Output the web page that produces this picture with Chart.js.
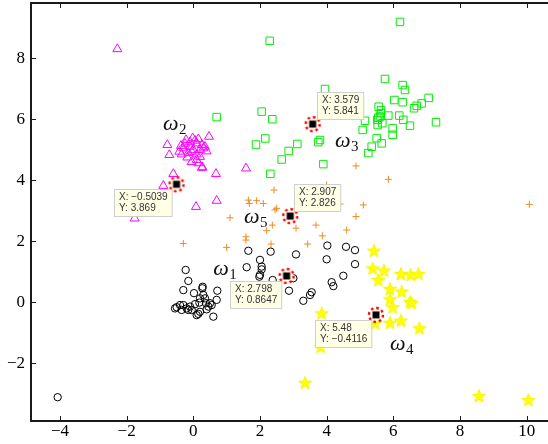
<!DOCTYPE html>
<html>
<head>
<meta charset="utf-8">
<script src="https://cdn.jsdelivr.net/npm/chart.js@4.4.1/dist/chart.umd.min.js"></script>
<style>
html, body { margin: 0; padding: 0; background: #fff; }
#wrap { width: 548px; height: 444px; }
</style>
</head>
<body>
<div id="wrap"><canvas id="myChart" width="548" height="444"></canvas></div>
<script>
// tick labels
const xTicks = [-4, -2, 0, 2, 4, 6, 8, 10];
const yTicks = [-2, 0, 2, 4, 6, 8];

// omega 1 - black circles
const w1x = [-4.07, -0.23, -0.15, -0.30, 0.02, 0.27, 0.72, 0.70, 0.60, 0.10, -0.50, -0.40, -0.30, -0.20, -0.10,
  -0.05, 0.18, 0.20, 0.35, 0.38, 0.40, 0.30, 0.20, 0.45, 0.50, 0.05, -0.35, -0.55, -0.15, 0.55, 0.28, 0.15,
  1.60, 1.65, 2.00, 2.05, 2.05, 1.98, 2.32, 2.38, 2.00, 3.08, 4.02, 4.00, 4.58, 4.85, 4.85, 4.50, 4.15, 4.20,
  3.55, 3.50, 3.30, 2.87, 3.00];
const w1y = [-3.11, 1.06, 0.70, 0.40, 0.30, 0.46, 0.38, 0.08, -0.47, -0.42, -0.16, -0.09, -0.09, -0.20, -0.14,
  -0.25, -0.01, 0.13, 0.13, -0.03, -0.23, 0.24, -0.31, -0.14, -0.03, -0.06, -0.25, -0.20, -0.25, -0.09, 0.51, -0.38,
  1.15, 1.69, 1.39, 1.17, 1.08, 0.84, 1.66, 0.73, 0.90, 1.57, 1.86, 1.41, 1.82, 1.71, 1.25, 0.87, 0.66, 0.53,
  0.33, 0.24, 0.05, 0.38, 0.79];

// omega 2 - magenta triangles
const w2x = [-2.28, -1.76, -0.78, -0.72, 0.47, -0.60, -0.90, 0.26, 0.68, 1.58, 0.70, 0.08,
  -0.42, -0.37, -0.22, -0.18, -0.02, -0.10, 0.10, -0.05, 0.10, 0.20, 0.26, 0.30, 0.15, 0.27,
  -0.30, 0.00, -0.15, 0.05, -0.25, 0.20, 0.35, -0.05, 0.10, -0.35, 0.15, -0.10, 0.40];
const w2y = [8.30, 2.75, 5.16, 4.83, 5.43, 4.21, 3.82, 4.41, 4.21, 4.39, 3.33, 3.13,
  4.94, 5.13, 5.32, 4.75, 5.38, 5.10, 5.21, 4.94, 4.67, 4.77, 5.16, 5.05, 4.56, 4.43,
  5.05, 5.00, 4.90, 5.30, 5.20, 5.00, 5.10, 4.60, 4.85, 4.85, 5.35, 5.25, 4.95];

// omega 3 - green squares
const w3x = [2.29, 0.70, 2.05, 2.37, 3.95, 2.16, 1.88, 3.12, 2.86, 2.65, 3.80, 3.75, 3.90, 2.31,
  6.20, 5.75, 6.28, 6.35, 7.06, 6.85, 6.70, 6.62, 6.03, 6.28, 5.56, 5.63, 5.85, 6.18, 6.30, 6.50,
  7.28, 5.60, 5.52, 5.53, 5.67, 5.15, 5.08, 5.98, 5.98, 5.50, 5.65, 5.35, 5.25, 5.63, 5.55];
const w3y = [8.57, 6.07, 6.25, 6.00, 6.99, 5.37, 5.17, 5.19, 4.96, 4.68, 5.32, 5.25, 4.53, 4.21,
  9.19, 7.32, 7.12, 6.96, 6.70, 6.52, 6.44, 6.36, 6.63, 6.56, 6.41, 6.30, 6.12, 6.12, 5.98, 5.79,
  5.90, 6.09, 5.98, 5.81, 5.87, 5.95, 5.65, 5.70, 5.49, 5.38, 5.21, 5.10, 4.89, 6.20, 6.05];

// omega 4 - yellow stars
const w4x = [5.42, 5.38, 5.72, 5.55, 6.23, 6.52, 6.75, 5.90, 6.25, 5.90, 5.98, 6.50, 6.55,
  3.85, 5.45, 5.90, 6.23, 6.78, 3.82, 3.35, 8.57, 10.05];
const w4y = [1.69, 1.11, 1.04, 0.73, 0.93, 0.90, 0.93, 0.44, 0.35, 0.10, -0.16, 0.02, -0.03,
  -0.36, -0.69, -0.67, -0.60, -0.85, -1.46, -2.64, -3.07, -3.20];

// omega 5 - orange plus
const w5x = [2.42, 1.65, 1.68, 1.90, 2.10, 2.50, 2.45, 4.00, 4.40, 5.10, 4.88, 3.68, 4.60, 3.08,
  2.37, 2.20, 1.58, 1.58, 2.33, 3.43, 1.10, 4.88, 5.85, 10.08, -0.30, 1.00, 3.87];
const w5y = [3.68, 3.35, 3.24, 3.33, 3.24, 3.08, 3.03, 3.85, 3.22, 3.19, 2.81, 2.53, 2.37, 2.43,
  2.53, 2.35, 2.15, 2.04, 1.91, 1.91, 2.77, 4.47, 4.03, 3.21, 1.93, 1.80, 2.18];

// cluster centres (data tips)
const centerX = [-0.5039, 2.907, 3.579, 2.798, 5.48];
const centerY = [3.869, 2.826, 5.841, 0.8647, -0.4116];
const tipSide = ['sw', 'ne', 'ne', 'sw', 'sw'];

// class labels
const labelSub = ['1', '2', '3', '4', '5'];
const labelX = [0.60, -0.91, 4.25, 5.90, 1.52];
const labelY = [0.90, 5.65, 5.10, -1.56, 2.60];

function pts(xs, ys) {
  return xs.map((x, i) => ({ x: x, y: ys[i] }));
}
function minus(v) {
  return String(v).replace('-', '\u2212');
}

// filled pentagram marker
function starImage(r) {
  const c = document.createElement('canvas');
  c.width = c.height = Math.ceil(r * 2 + 2);
  const g = c.getContext('2d');
  const cx = c.width / 2, cy = c.height / 2 + 0.5;
  g.beginPath();
  for (let i = 0; i < 10; i++) {
    const rad = i % 2 === 0 ? r : r * 0.42;
    const a = -Math.PI / 2 + i * Math.PI / 5;
    g.lineTo(cx + rad * Math.cos(a), cy + rad * Math.sin(a));
  }
  g.closePath();
  g.fillStyle = '#ffff00';
  g.fill();
  g.strokeStyle = '#f2f200';
  g.lineWidth = 0.8;
  g.stroke();
  return c;
}

// black square with red dashed ring
function centerImage() {
  const c = document.createElement('canvas');
  c.width = c.height = 20;
  const g = c.getContext('2d');
  g.beginPath();
  g.arc(10, 10, 7, 0, Math.PI * 2);
  g.fillStyle = '#fffdf0';
  g.fill();
  g.setLineDash([2.6, 2.9]);
  g.strokeStyle = '#ff0000';
  g.lineWidth = 2.4;
  g.stroke();
  g.fillStyle = '#000';
  g.fillRect(6.5, 6.5, 7, 7);
  return c;
}

const axesBox = {
  id: 'axesBox',
  afterDraw(chart) {
    const ctx = chart.ctx;
    const a = chart.chartArea;
    const xs = chart.scales.x, ys = chart.scales.y;
    ctx.save();
    ctx.strokeStyle = '#1a1a1a';
    ctx.lineWidth = 2;
    ctx.beginPath();
    ctx.moveTo(a.right, a.top); ctx.lineTo(a.left, a.top);
    ctx.lineTo(a.left, a.bottom); ctx.lineTo(a.right, a.bottom);
    ctx.stroke();
    ctx.lineWidth = 1;
    ctx.beginPath();
    xTicks.forEach(v => {
      const p = Math.round(xs.getPixelForValue(v)) + 0.5;
      ctx.moveTo(p, a.bottom); ctx.lineTo(p, a.bottom - 5);
      ctx.moveTo(p, a.top); ctx.lineTo(p, a.top + 5);
    });
    yTicks.forEach(v => {
      const p = Math.round(ys.getPixelForValue(v)) + 0.5;
      ctx.moveTo(a.left, p); ctx.lineTo(a.left + 5, p);
    });
    ctx.stroke();
    ctx.restore();
  }
};

const annotations = {
  id: 'annotations',
  afterDatasetsDraw(chart) {
    const ctx = chart.ctx;
    const xs = chart.scales.x, ys = chart.scales.y;
    ctx.save();
    // omega labels
    ctx.fillStyle = '#111';
    ctx.textBaseline = 'alphabetic';
    labelSub.forEach((s, i) => {
      const px = xs.getPixelForValue(labelX[i]);
      const py = ys.getPixelForValue(labelY[i]);
      ctx.font = 'italic 22px "Liberation Serif"';
      ctx.fillText('\u03c9', px, py);
      const w = ctx.measureText('\u03c9').width;
      ctx.font = '15px "Liberation Serif"';
      ctx.fillText(s, px + w + 0.5, py + 4);
    });
    // data tips
    const meta = chart.getDatasetMeta(0);
    ctx.font = '10px "Liberation Sans"';
    ctx.textBaseline = 'middle';
    meta.data.forEach((pt, i) => {
      const l1 = 'X: ' + minus(centerX[i]);
      const l2 = 'Y: ' + minus(centerY[i]);
      const w = Math.max(ctx.measureText(l1).width, ctx.measureText(l2).width) + 9;
      const h = 27;
      let bx, by;
      if (tipSide[i] === 'ne') { bx = pt.x + 4; by = pt.y - 5 - h; }
      else { bx = pt.x - 5 - w; by = pt.y + 5; }
      bx = Math.round(bx) + 0.5; by = Math.round(by) + 0.5;
      ctx.fillStyle = '#ffffe6';
      ctx.fillRect(bx, by, w, h);
      ctx.strokeStyle = '#cfcfcf';
      ctx.lineWidth = 1;
      ctx.strokeRect(bx, by, w, h);
      ctx.fillStyle = '#333';
      ctx.fillText(l1, bx + 4.5, by + 8);
      ctx.fillText(l2, bx + 4.5, by + 18.5);
    });
    ctx.restore();
  }
};

const ctx = document.getElementById('myChart');

const chart = new Chart(ctx, {
  type: 'scatter',
  data: {
    datasets: [
      {
        label: 'centres',
        data: pts(centerX, centerY),
        pointStyle: centerImage(),
        pointRadius: 10
      },
      {
        label: '\u03c91',
        data: pts(w1x, w1y),
        pointStyle: 'circle',
        pointRadius: 3.7,
        borderWidth: 1,
        borderColor: '#000',
        backgroundColor: 'rgba(0,0,0,0)'
      },
      {
        label: '\u03c92',
        data: pts(w2x, w2y),
        pointStyle: 'triangle',
        pointRadius: 5.2,
        borderWidth: 1,
        borderColor: '#ff00ff',
        backgroundColor: 'rgba(0,0,0,0)'
      },
      {
        label: '\u03c93',
        data: pts(w3x, w3y),
        pointStyle: 'rect',
        pointRadius: 5.3,
        borderWidth: 1,
        borderColor: '#00ee00',
        backgroundColor: 'rgba(0,0,0,0)'
      },
      {
        label: '\u03c94',
        data: pts(w4x, w4y),
        pointStyle: starImage(7),
        pointRadius: 7
      },
      {
        label: '\u03c95',
        data: pts(w5x, w5y),
        pointStyle: 'cross',
        pointRadius: 3.5,
        borderWidth: 1,
        borderColor: '#ef8c22',
        backgroundColor: '#ef8c22'
      }
    ]
  },
  options: {
    responsive: false,
    animation: false,
    events: [],
    layout: { autoPadding: false, padding: { top: 3, right: 0, left: 0, bottom: 0 } },
    plugins: {
      legend: { display: false },
      tooltip: { enabled: false }
    },
    scales: {
      x: {
        type: 'linear',
        min: -4.87,
        max: 10.64,
        grid: { display: false, drawTicks: false },
        border: { display: false },
        afterBuildTicks: s => { s.ticks = xTicks.map(v => ({ value: v })); },
        afterFit: s => { s.height = 23; s.paddingLeft = 0; s.paddingRight = 0; },
        ticks: {
          font: { family: 'Liberation Serif', size: 17 },
          color: '#000',
          padding: 0,
          maxRotation: 0,
          autoSkip: false,
          callback: v => minus(v)
        }
      },
      y: {
        type: 'linear',
        min: -3.89,
        max: 9.81,
        grid: { display: false, drawTicks: false },
        border: { display: false },
        afterBuildTicks: s => { s.ticks = yTicks.map(v => ({ value: v })); },
        afterFit: s => { s.width = 31; s.paddingTop = 0; s.paddingBottom = 0; },
        ticks: {
          font: { family: 'Liberation Serif', size: 17 },
          color: '#000',
          padding: 6,
          autoSkip: false,
          callback: v => minus(v)
        }
      }
    }
  },
  plugins: [axesBox, annotations]
});
</script>
</body>
</html>
